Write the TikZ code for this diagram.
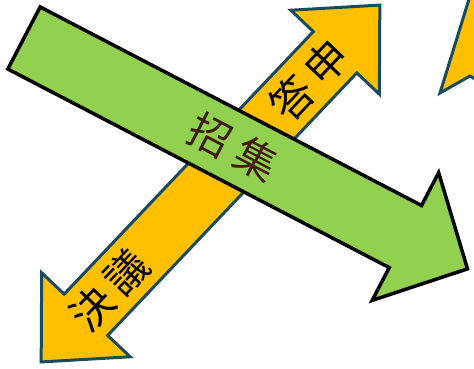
\documentclass[tikz,border=0pt]{standalone}
\usepackage{fontspec}
\newfontfamily\jpfont{Noto Sans CJK JP}

\definecolor{arrowyellow}{HTML}{FFC000}
\definecolor{arrowteal}{HTML}{1A4A5E}
\definecolor{arrowgreen}{HTML}{92D050}
\definecolor{labelbrown}{HTML}{3F1E08}

\begin{document}
\begin{tikzpicture}[
    x=1pt,
    y=-1pt,
    yellowarrow/.style={fill=arrowyellow, draw=arrowteal, line width=3pt},
    greenarrow/.style={fill=arrowgreen, draw=black, line width=3.5pt},
    arrowlabel/.style={font=\jpfont\fontsize{42pt}{48pt}\selectfont,
        inner sep=0pt, transform shape}
]

% -------------------------------------------------------------------------
% Limits
% -------------------------------------------------------------------------
\def\picw{474}
\def\pich{368}

\useasboundingbox (0,0) rectangle (\picw,\pich);

% -------------------------------------------------------------------------
% Arrow cut off at the right edge
% -------------------------------------------------------------------------
\begin{scope}
    \clip (0,0) rectangle (\picw,\pich);
    \draw[ yellowarrow ]
        (440,93) -- (478,-30) -- (520,-30) -- (520,106) -- (470,76) -- cycle;
\end{scope}

% -------------------------------------------------------------------------
% Double arrow: half length, head length, head and shaft half widths
% -------------------------------------------------------------------------
\def\yhalf{246}
\def\yhead{65}
\def\ybarb{61}
\def\yshaft{30}

\begin{scope}[ shift={(210.5,183.5)}, rotate=46.5 ]
    \draw[ yellowarrow ]
        (-\yhalf,0) -- (-\yhalf+\yhead,-\ybarb) -- (-\yhalf+\yhead,-\yshaft)
        -- (\yhalf-\yhead,-\yshaft) -- (\yhalf-\yhead,-\ybarb) -- (\yhalf,0)
        -- (\yhalf-\yhead,\ybarb) -- (\yhalf-\yhead,\yshaft)
        -- (-\yhalf+\yhead,\yshaft) -- (-\yhalf+\yhead,\ybarb) -- cycle;

    \node[ arrowlabel ] (reply) at (143,0) {答\hspace{8pt}申};
    \node[ arrowlabel ] (resolution) at (-147,0) {決\hspace{8pt}議};
\end{scope}

% -------------------------------------------------------------------------
% Single arrow on top
% -------------------------------------------------------------------------
\def\glen{500}
\def\ghead{70}
\def\gbarb{72}
\def\gshaft{35}

\begin{scope}[ shift={(24,38)}, rotate=-27.5 ]
    \draw[ greenarrow ]
        (0,-\gshaft) -- (\glen-\ghead,-\gshaft) -- (\glen-\ghead,-\gbarb)
        -- (\glen,0) -- (\glen-\ghead,\gbarb) -- (\glen-\ghead,\gshaft)
        -- (0,\gshaft) -- cycle;

    \node[ arrowlabel, text=labelbrown ] (convene) at (236,0) {招\hspace{10pt}集};
\end{scope}

\end{tikzpicture}
\end{document}
